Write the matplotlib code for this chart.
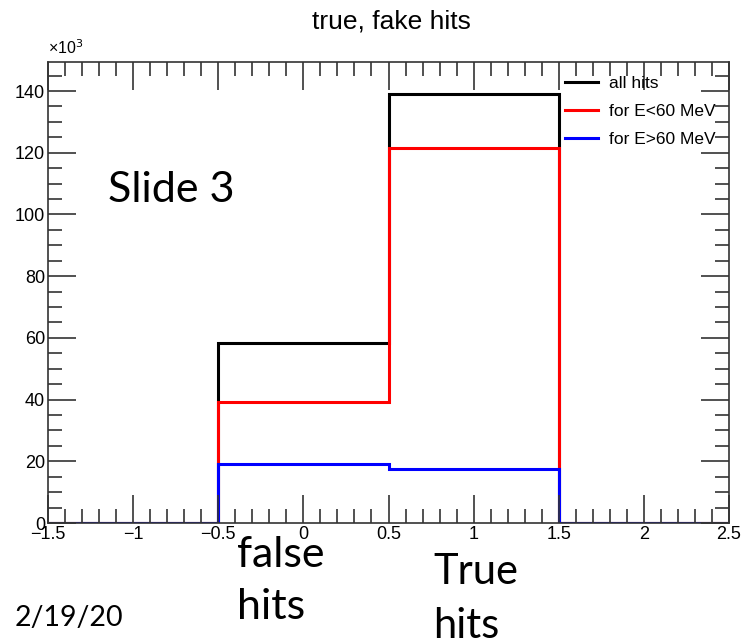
import numpy as np
import matplotlib.pyplot as plt
from matplotlib.ticker import MultipleLocator

# histogram bins (hit flag) and counts in thousands
edges = [-1.5, -0.5, 0.5, 1.5, 2.5]
all_hits = [0, 58.3, 138.9, 0]
low_e = [0, 39.2, 121.6, 0]
high_e = [0, 19.1, 17.4, 0]
labels = ["all hits", "for E<60 MeV", "for E>60 MeV"]
colors = ["black", "#ff0000", "#0000ff"]

plt.rcParams["font.family"] = ["Liberation Sans", "DejaVu Sans"]

fig = plt.figure(figsize=(7.42, 6.43), dpi=100)
ax = fig.add_axes([48 / 742, 120 / 643, 681 / 742, 461 / 643])

for vals, lab, col in zip([all_hits, low_e, high_e], labels, colors):
    ax.stairs(vals, edges, color=col, lw=2.2, label=lab, baseline=0)

ax.set_xlim(-1.5, 2.5)
ax.set_ylim(0, 149.4)
ax.xaxis.set_major_locator(MultipleLocator(0.5))
ax.xaxis.set_minor_locator(MultipleLocator(0.1))
ax.yaxis.set_major_locator(MultipleLocator(20))
ax.yaxis.set_minor_locator(MultipleLocator(5))
ax.xaxis.set_major_formatter(lambda v, p: f"{v:g}".replace("-", "\u2212"))
ax.tick_params(which="both", direction="in", top=True, right=True,
               labelsize=13, color="#333333", width=1.2)
ax.tick_params(which="major", length=20, pad=2)
ax.tick_params(which="minor", length=10)
for s in ax.spines.values():
    s.set_color("#333333")
    s.set_linewidth(1.2)

ax.text(0.0, 1.01, "×10$^3$", transform=ax.transAxes, ha="left", va="bottom", fontsize=11.5)
fig.text(391 / 742, 1 - 22 / 643, "true, fake hits", ha="center", va="center", fontsize=19)

ax.legend(loc="upper right", bbox_to_anchor=(0.99, 0.985), frameon=False,
          fontsize=12.5, handlelength=1.9, handletextpad=0.6, labelspacing=0.75,
          borderaxespad=0)

# slide annotations
fig.text(108 / 742, 1 - 190 / 643, "Slide 3", fontsize=31, family="Lato", va="center")
fig.text(237 / 742, 1 - 555 / 643, "false", fontsize=31, family="Lato", va="center")
fig.text(237 / 742, 1 - 607 / 643, "hits", fontsize=31, family="Lato", va="center")
fig.text(433 / 742, 1 - 572 / 643, "True", fontsize=30, family="Lato", va="center")
fig.text(433 / 742, 1 - 626 / 643, "hits", fontsize=30, family="Lato", va="center")
fig.text(15 / 742, 1 - 618 / 643, "2/19/20", fontsize=20.5, family="Lato", va="center")

fig.savefig("out.png", dpi=100)
